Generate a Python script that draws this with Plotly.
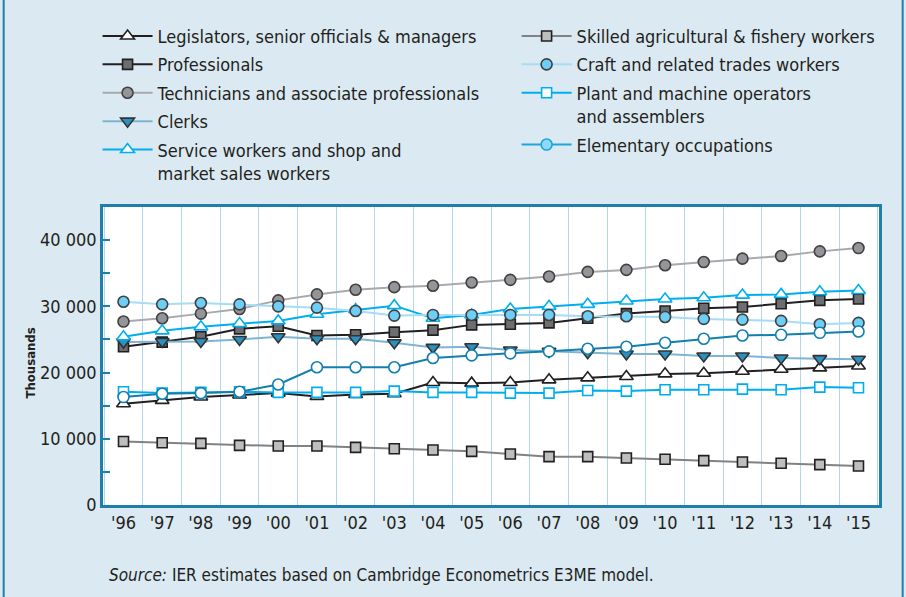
import plotly.graph_objects as go

# year labels on the x axis
years = ["'96", "'97", "'98", "'99", "'00", "'01", "'02", "'03", "'04", "'05",
         "'06", "'07", "'08", "'09", "'10", "'11", "'12", "'13", "'14", "'15"]

# employment by occupation, thousands
legislators = [15300, 15800, 16300, 16600, 16900, 16400, 16700, 16800, 18500, 18400,
               18500, 18900, 19200, 19400, 19800, 19900, 20200, 20500, 20700, 21000]
professionals = [23900, 24600, 25400, 26600, 27000, 25600, 25700, 26100, 26400, 27200,
                 27300, 27500, 28200, 28900, 29300, 29700, 29900, 30400, 30900, 31100]
technicians = [27700, 28200, 28900, 29600, 30900, 31800, 32500, 32900, 33100, 33600,
               34000, 34500, 35200, 35500, 36200, 36700, 37200, 37600, 38300, 38800]
clerks = [24600, 24700, 24700, 25000, 25400, 25100, 25100, 24500, 23800, 23900,
          23400, 23200, 23000, 22800, 22800, 22500, 22500, 22200, 22100, 22000]
service = [25400, 26300, 26900, 27400, 27800, 28800, 29500, 30100, 28200, 28700,
           29600, 30000, 30300, 30800, 31100, 31300, 31700, 31800, 32200, 32400]
agricultural = [9600, 9400, 9300, 9000, 8900, 8900, 8700, 8500, 8300, 8100,
                7700, 7300, 7300, 7100, 6900, 6700, 6500, 6300, 6100, 5900]
craft = [30700, 30300, 30500, 30300, 30000, 29800, 29300, 28600, 28700, 28700,
         28700, 28700, 28500, 28500, 28400, 28100, 28000, 27800, 27300, 27500]
plant = [17100, 16900, 17000, 17100, 17000, 17000, 17000, 17200, 17000, 17000,
         16900, 16900, 17300, 17200, 17400, 17400, 17500, 17400, 17800, 17700]
elementary = [16300, 16800, 16900, 17100, 18200, 20800, 20800, 20800, 22200, 22600,
              22900, 23200, 23600, 23900, 24500, 25100, 25600, 25700, 26000, 26200]

y_ticks = [0, 10000, 20000, 30000, 40000]
y_tick_text = ["0", "10 000", "20 000", "30 000", "40 000"]

FONT = "Liberation Sans Narrow, DejaVu Sans Condensed, Arial Narrow, sans-serif"
TEXT = "#231f20"
FRAME = "#1f7fab"
BG = "#dbe9f2"

x = list(range(len(years)))

fig = go.Figure()


def add_series(name, values, line_color, symbol, fill, outline, legend, size=10):
    fig.add_trace(go.Scatter(
        x=x, y=values, name=name, mode="lines+markers",
        line=dict(color=line_color, width=2),
        marker=dict(symbol=symbol, size=size, color=fill,
                    line=dict(color=outline, width=1.6)),
        legend=legend, legendgroup=name,
    ))


add_series("Legislators, senior officials & managers", legislators,
           "#231f20", "triangle-up", "white", "#231f20", "legend", 12)
add_series("Professionals", professionals,
           "#231f20", "square", "#6d6e71", "#231f20", "legend")
add_series("Technicians and associate professionals", technicians,
           "#a7a9ac", "circle", "#939598", "#414042", "legend", 11)
add_series("Clerks", clerks,
           "#7fb4d2", "triangle-down", "#2a92c0", "#333333", "legend", 12)
add_series("Service workers and shop and<br>market sales workers", service,
           "#00aeef", "triangle-up", "white", "#00aeef", "legend", 12)

add_series("Skilled agricultural & fishery workers", agricultural,
           "#808285", "square", "#bcbec0", "#231f20", "legend2")
add_series("Craft and related trades workers", craft,
           "#a6dcf4", "circle", "#6dcff6", "#414042", "legend2", 11)
add_series("Plant and machine operators<br>and assemblers", plant,
           "#00aeef", "square", "white", "#00aeef", "legend2")

# elementary: plotted in teal with open circles, keyed in the legend with a filled circle
fig.add_trace(go.Scatter(
    x=x, y=elementary, name="Elementary occupations", mode="lines+markers",
    line=dict(color="#127fae", width=2),
    marker=dict(symbol="circle", size=11, color="white", line=dict(color="#127fae", width=1.6)),
    showlegend=False,
))
fig.add_trace(go.Scatter(
    x=[None], y=[None], name="Elementary occupations", mode="lines+markers",
    line=dict(color="#1ba6dd", width=2),
    marker=dict(symbol="circle", size=11, color="#8ed8f8", line=dict(color="#1ba6dd", width=1.6)),
    legend="legend2",
))

legend_style = dict(
    font=dict(family=FONT, size=18, color=TEXT),
    bgcolor="rgba(0,0,0,0)", itemwidth=50, valign="top",
    tracegroupgap=2, xanchor="left", yanchor="top",
)

fig.update_layout(
    width=906, height=597,
    margin=dict(l=103, r=27, t=207, b=92),
    paper_bgcolor=BG, plot_bgcolor="white",
    font=dict(family=FONT, size=18, color=TEXT),
    legend=dict(x=-0.007, y=1.635, **legend_style),
    legend2=dict(x=0.533, y=1.635, **legend_style),
    xaxis=dict(
        range=[-0.53, 19.53], tickvals=x, ticktext=years,
        showgrid=False, zeroline=False,
        showline=True, linecolor=FRAME, linewidth=2.5, mirror=True,
        ticks="", tickfont=dict(size=18),
        minor=dict(tick0=0.5, dtick=1, showgrid=True, gridcolor="#b3d6e9", gridwidth=1),
    ),
    yaxis=dict(
        range=[0, 45000], tickvals=y_ticks, ticktext=y_tick_text,
        showgrid=False, zeroline=False,
        showline=True, linecolor=FRAME, linewidth=2.5, mirror=True,
        ticks="inside", ticklen=7, tickwidth=1.5, tickcolor=FRAME,
        tickfont=dict(size=18),
        minor=dict(dtick=5000, ticks="inside", ticklen=7, tickwidth=1.5, tickcolor=FRAME),
    ),
    annotations=[
        dict(text="<b>Thousands</b>", textangle=-90, xref="paper", yref="paper",
             x=0, y=0.5, xshift=-83, yshift=-7, showarrow=False,
             font=dict(family=FONT, size=13, color=TEXT)),
        dict(text="<i>Source:</i> IER estimates based on Cambridge Econometrics E3ME model.",
             xref="paper", yref="paper", x=0.005, y=-0.235, xanchor="left", yanchor="middle",
             showarrow=False, font=dict(family=FONT, size=17, color=TEXT)),
    ],
    shapes=[
        dict(type="line", xref="paper", yref="paper", x0=-0.128, x1=-0.128,
             y0=-0.32, y1=1.7, line=dict(color=FRAME, width=2)),
        dict(type="line", xref="paper", yref="paper", x0=1.0305, x1=1.0305,
             y0=-0.32, y1=1.7, line=dict(color=FRAME, width=2)),
    ],
)

fig.write_html("out.html", config={"displayModeBar": False},
               post_script="document.body.style.margin='0';")
